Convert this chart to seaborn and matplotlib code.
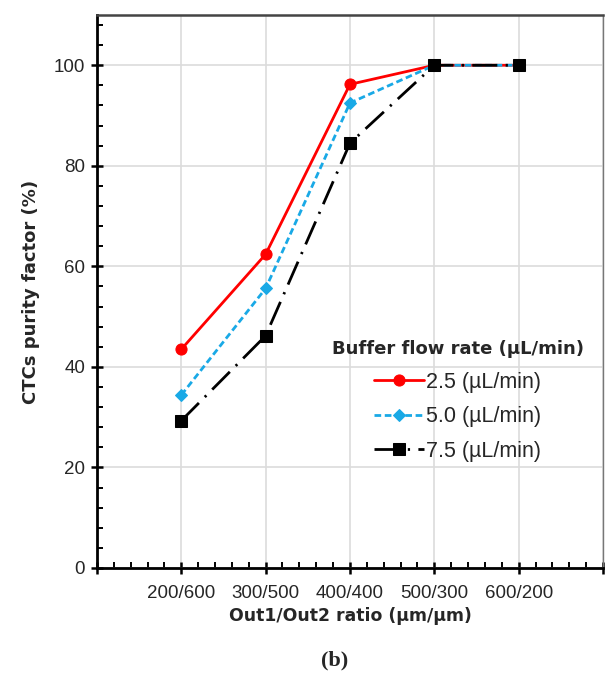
import numpy as np
import pandas as pd
import seaborn as sns
import matplotlib.pyplot as plt
from matplotlib.ticker import MultipleLocator, FixedLocator, FixedFormatter

ratios = ['200/600', '300/500', '400/400', '500/300', '600/200']
purity_25 = [43.5, 62.4, 96.2, 100, 100]
purity_50 = [34.4, 55.6, 92.5, 100, 100]
purity_75 = [29.3, 46.2, 84.5, 100, 100]
series_labels = ['2.5 (\u00b5L/min)', '5.0 (\u00b5L/min)', '7.5 (\u00b5L/min)']

sns.set_style('white')
plt.rcParams['font.family'] = ['Liberation Sans', 'DejaVu Sans']

pos = np.arange(1, len(ratios) + 1)

fig = plt.figure(figsize=(6.06, 6.84), dpi=100)
ax = fig.add_axes([0.160, 0.1696, 0.835, 0.8085])

styles = [
    dict(y=purity_25, color='#ff0000', ls='-', marker='o', ms=8),
    dict(y=purity_50, color='#19a9e6', ls=(0, (2.4, 1.3)), marker='D', ms=6),
    dict(y=purity_75, color='#000000', ls=(0, (9, 3, 0.8, 3)), marker='s', ms=8),
]
for s, lab in zip(styles, series_labels):
    df = pd.DataFrame({'pos': pos, 'val': s['y']})
    sns.lineplot(data=df, x='pos', y='val', ax=ax, color=s['color'], linestyle=s['ls'],
                 marker=s['marker'], markersize=s['ms'], markeredgecolor=s['color'],
                 linewidth=2.0, label=lab)

ax.set_xlim(0, 6)
ax.set_ylim(0, 110)

ax.xaxis.set_major_locator(FixedLocator(range(0, 7)))
ax.xaxis.set_major_formatter(FixedFormatter([''] + ratios + ['']))
ax.xaxis.set_minor_locator(MultipleLocator(0.2))
ax.yaxis.set_major_locator(FixedLocator(range(0, 101, 20)))
ax.yaxis.set_minor_locator(MultipleLocator(4))
ax.grid(True, which='major', color='#dcdcdc', linewidth=1.2)
ax.set_axisbelow(True)

ax.tick_params(axis='both', which='both', bottom=True, left=True, top=False, right=False)
ax.tick_params(axis='both', which='major', direction='inout', length=9, width=1.8,
               color='black', labelsize=13.5, labelcolor='#262626')
ax.tick_params(axis='both', which='minor', direction='in', length=4, width=1.4, color='black')
ax.tick_params(axis='x', which='major', pad=8)
ax.tick_params(axis='y', which='major', pad=4)

for side in ['left', 'bottom']:
    ax.spines[side].set_color('black')
    ax.spines[side].set_linewidth(2)
ax.spines['top'].set_color('#444444')
ax.spines['top'].set_linewidth(1.8)
ax.spines['right'].set_color('#777777')
ax.spines['right'].set_linewidth(1)

ax.set_xlabel('Out1/Out2 ratio (\u00b5m/\u00b5m)', fontsize=12.4, fontweight='bold',
              family='DejaVu Sans', labelpad=3)
ax.set_ylabel('CTCs purity factor (%)', fontsize=13, fontweight='bold',
              family='DejaVu Sans', labelpad=10)

leg = ax.legend(title='Buffer flow rate (\u00b5L/min)', frameon=False, loc='center',
                bbox_to_anchor=(0.713, 0.302), fontsize=15.5, handlelength=2.3,
                handletextpad=0.1, labelspacing=0.62, borderpad=0.2)
leg.get_title().set_fontweight('bold')
leg.get_title().set_family('DejaVu Sans')
leg.get_title().set_fontsize(13)
for t in leg.get_texts():
    t.set_color('#262626')

fig.text(0.553, 0.035, '(b)', fontsize=16, fontweight='bold', family='Liberation Serif',
         ha='center', va='center')

fig.savefig('out.png', dpi=100)
